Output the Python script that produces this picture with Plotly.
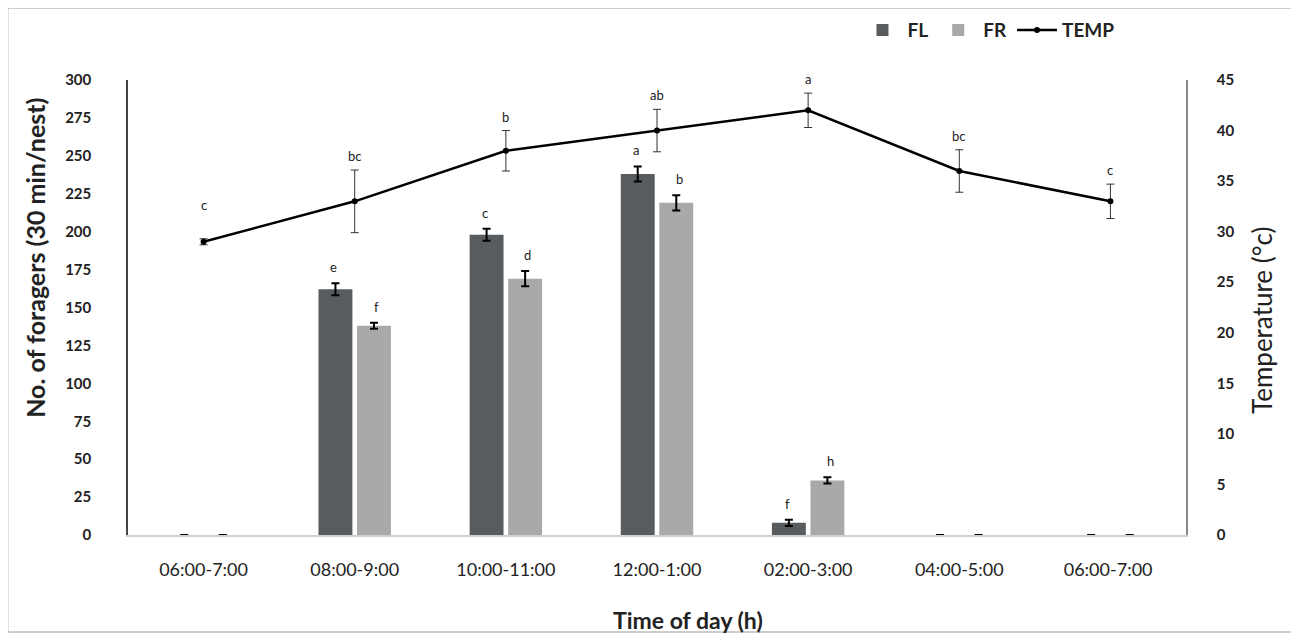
import plotly.graph_objects as go

categories = ["06:00-7:00", "08:00-9:00", "10:00-11:00", "12:00-1:00", "02:00-3:00", "04:00-5:00", "06:00-7:00 "]
fl_values = [0, 162, 198, 238, 8, 0, 0]
fl_err = [0, 4, 4, 5, 2, 0, 0]
fl_letters = ["", "e", "c", "a", "f", "", ""]
fr_values = [0, 138, 169, 219, 36, 0, 0]
fr_err = [0, 2, 5, 5, 2, 0, 0]
fr_letters = ["", "f", "d", "b", "h", "", ""]
temp_values = [29, 33, 38, 40, 42, 36, 33]
temp_err = [0.3, 3.1, 2.0, 2.1, 1.7, 2.1, 1.7]
temp_letters = ["c", "bc", "b", "ab", "a", "bc", "c"]

FONT = "Lato, 'Open Sans', sans-serif"

fig = go.Figure()
fig.add_trace(go.Bar(
    name="FL", x=categories, y=fl_values,
    marker=dict(color="#585c5e", line=dict(width=0)),
    error_y=dict(type="data", array=fl_err, color="black", thickness=2, width=4),
))
fig.add_trace(go.Bar(
    name="FR", x=categories, y=fr_values,
    marker=dict(color="#a7a9aa", line=dict(width=0)),
    error_y=dict(type="data", array=fr_err, color="black", thickness=2, width=4),
))
fig.add_trace(go.Scatter(
    name="TEMP", x=categories, y=temp_values, yaxis="y2", mode="lines+markers",
    line=dict(color="black", width=2.5), marker=dict(color="black", size=6),
    error_y=dict(type="data", array=temp_err, color="#333333", thickness=1, width=4),
))

ann = []
for i, c in enumerate(categories):
    if fl_letters[i]:
        ann.append(dict(x=c, y=fl_values[i] + fl_err[i], xref="x", yref="y", text=fl_letters[i],
                        showarrow=False, xshift=-21, yshift=16,
                        font=dict(family=FONT, size=13, color="#222")))
    if fr_letters[i]:
        ann.append(dict(x=c, y=fr_values[i] + fr_err[i], xref="x", yref="y", text=fr_letters[i],
                        showarrow=False, xshift=22, yshift=16,
                        font=dict(family=FONT, size=13, color="#222")))
    ann.append(dict(x=c, y=temp_values[i] + temp_err[i], xref="x", yref="y2", text=temp_letters[i],
                    showarrow=False, yshift=14 if temp_err[i] > 1 else 34,
                    font=dict(family=FONT, size=13, color="#222")))

# axis titles
ann.append(dict(x=-0.088, y=0.609, xref="paper", yref="paper", text="No. of foragers (30 min/nest)",
                textangle=-90, showarrow=False, xanchor="center", yanchor="middle",
                font=dict(family=FONT, size=25, color="#222", weight="bold")))
ann.append(dict(x=1.0718, y=0.4725, xref="paper", yref="paper", text="Temperature (°c)",
                textangle=-90, showarrow=False, xanchor="center", yanchor="middle",
                font=dict(family=FONT, size=26, color="#222")))
ann.append(dict(x=0.529, y=-0.187, xref="paper", yref="paper", text="Time of day (h)",
                showarrow=False, xanchor="center", yanchor="middle",
                font=dict(family=FONT, size=23, color="#222", weight="bold")))

fig.update_layout(
    width=1291, height=631,
    margin=dict(l=120, r=113, t=72, b=104),
    paper_bgcolor="white", plot_bgcolor="white",
    barmode="group", bargap=0.49, bargroupgap=0.12,
    font=dict(family=FONT, size=15, color="#222"),
    showlegend=True,
    legend=dict(orientation="h", xref="container", yref="container",
                x=0.658, y=0.965, xanchor="left", yanchor="middle",
                font=dict(family=FONT, size=19, color="#222", weight="bold"),
                bgcolor="rgba(0,0,0,0)", itemwidth=40, tracegroupgap=0),
    xaxis=dict(showgrid=False, showline=True, linecolor="#d0d0d0", linewidth=1.5,
               ticks="", tickfont=dict(size=18), ticklabelstandoff=18, automargin=False),
    yaxis=dict(range=[0, 300], dtick=25, showgrid=False, showline=True, linecolor="#444",
               linewidth=1.5, ticks="", ticklabelstandoff=32, zeroline=False, automargin=False,
               tickfont=dict(size=15, weight="bold")),
    yaxis2=dict(range=[0, 45], dtick=5, overlaying="y", side="right", showgrid=False,
                showline=True, linecolor="#888", linewidth=1.5, ticks="", ticklabelstandoff=26,
                zeroline=False, automargin=False, tickfont=dict(size=15, weight="bold")),
    annotations=ann,
    shapes=[dict(type="rect", xref="paper", yref="paper",
                 x0=-0.1137, x1=1.1024, y0=-0.213, y1=1.158,
                 line=dict(color="#bdbdbd", width=1.5), fillcolor="rgba(0,0,0,0)")],
)

fig.write_html("out.html")
